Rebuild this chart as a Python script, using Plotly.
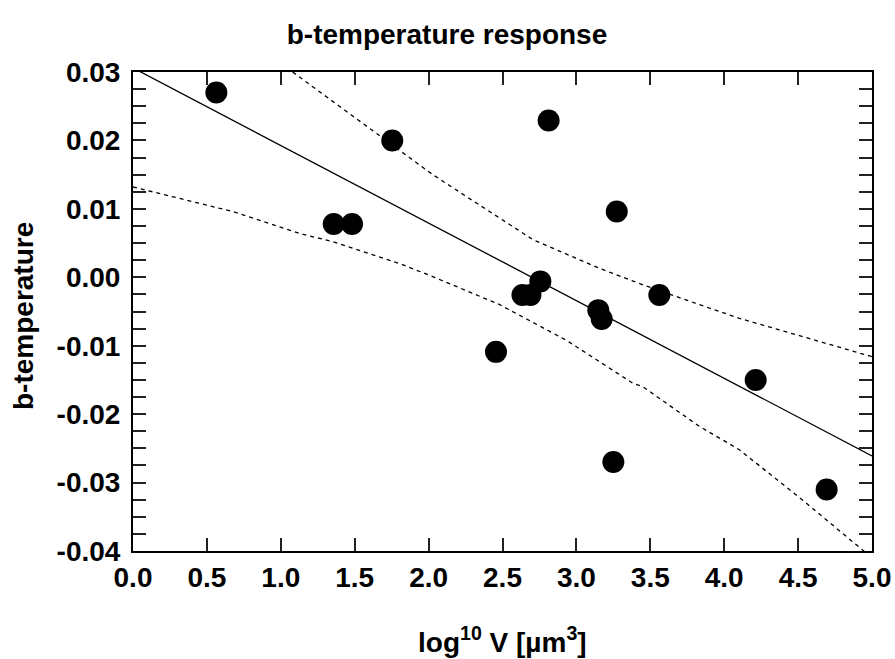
import plotly.graph_objects as go

# Observed points
x_pts = [0.564, 1.358, 1.482, 1.754, 2.456, 2.635, 2.689, 2.756, 2.812,
         3.148, 3.171, 3.250, 3.273, 3.561, 4.213, 4.693]
y_pts = [0.0270, 0.0078, 0.0078, 0.0200, -0.0109, -0.0026, -0.0026, -0.0006, 0.0229,
         -0.0048, -0.0061, -0.0270, 0.0096, -0.0026, -0.0150, -0.0310]

# Fitted line
x_fit = [0.0, 5.0]
y_fit = [0.0306, -0.0261]

# Upper confidence band
x_up = [1.08, 1.352, 1.578, 1.805, 2.028, 2.256, 2.706, 3.157, 3.45, 3.833, 4.103, 5.0]
y_up = [0.0300, 0.0257, 0.0222, 0.0186, 0.0150, 0.0118, 0.0055, 0.0013, -0.0011, -0.0040, -0.0060, -0.0116]

# Lower confidence band
x_lo = [0.0, 0.676, 1.129, 1.352, 1.805, 2.028, 2.481, 2.932, 3.383, 3.45, 3.833, 4.103, 4.555, 4.916, 5.0]
y_lo = [0.0132, 0.0096, 0.0064, 0.0052, 0.0020, 0.0001, -0.0040, -0.0092, -0.0155, -0.0160, -0.0218, -0.0252, -0.0330, -0.0394, -0.0410]

y_tickvals = [0.03, 0.02, 0.01, 0.0, -0.01, -0.02, -0.03, -0.04]
y_ticktext = ["0.03", "0.02", "0.01", "0.00", "-0.01", "-0.02", "-0.03", "-0.04"]
x_tickvals = [0.0, 0.5, 1.0, 1.5, 2.0, 2.5, 3.0, 3.5, 4.0, 4.5, 5.0]
x_ticktext = ["0.0", "0.5", "1.0", "1.5", "2.0", "2.5", "3.0", "3.5", "4.0", "4.5", "5.0"]

FONT = "Liberation Sans, Arial, sans-serif"
W, H = 895, 659
L, R, T, B = 133, 23, 72, 108

fig = go.Figure()
fig.add_trace(go.Scatter(x=x_up, y=y_up, mode="lines",
                         line=dict(color="black", width=1.3, dash="4px,4px"), hoverinfo="skip"))
fig.add_trace(go.Scatter(x=x_lo, y=y_lo, mode="lines",
                         line=dict(color="black", width=1.3, dash="4px,4px"), hoverinfo="skip"))
fig.add_trace(go.Scatter(x=x_fit, y=y_fit, mode="lines",
                         line=dict(color="black", width=1.3)))
fig.add_trace(go.Scatter(x=x_pts, y=y_pts, mode="markers",
                         marker=dict(color="black", size=22, line=dict(width=0)),
                         cliponaxis=False))

axis_common = dict(showgrid=False, zeroline=False, showline=True, linecolor="black",
                   linewidth=2, mirror="ticks", ticks="inside", ticklen=13,
                   tickwidth=2, tickcolor="#222", automargin=False,
                   tickfont=dict(family=FONT, size=28, color="black", weight="bold"))

fig.update_layout(
    width=W, height=H,
    margin=dict(l=L, r=R, t=T, b=B, autoexpand=False),
    paper_bgcolor="white", plot_bgcolor="white",
    showlegend=False,
    title=dict(text="<b>b-temperature response</b>", xref="paper", xanchor="center",
               y=1 - 34 / H, yref="container", yanchor="middle",
               font=dict(family=FONT, size=28, color="black")),
    xaxis=dict(range=[0, 5], tickvals=x_tickvals, ticktext=x_ticktext, **axis_common),
    yaxis=dict(range=[-0.04, 0.03], tickvals=y_tickvals, ticktext=y_ticktext,
               minor=dict(dtick=0.0025, tick0=0, ticks="inside", ticklen=13, tickwidth=2,
                          tickcolor="#222"),
               ticklabelstandoff=5, **axis_common),
)
fig.update_layout(title_x=(447 - L) / (W - L - R))

fig.add_annotation(text="<b>log<sup>10</sup> V [µm<sup>3</sup>]</b>", xref="paper", yref="paper",
                   x=0.5, y=-(640 - (H - B)) / (H - T - B), xanchor="center", yanchor="middle",
                   showarrow=False, font=dict(family=FONT, size=28, color="black"))
fig.add_annotation(text="<b>b-temperature</b>", xref="paper", yref="paper",
                   x=-(L - 23) / (W - L - R), y=(H - B - 316) / (H - T - B),
                   xanchor="center", yanchor="middle", textangle=-90,
                   showarrow=False, font=dict(family=FONT, size=28, color="black"))

fig.write_html("out.html")
